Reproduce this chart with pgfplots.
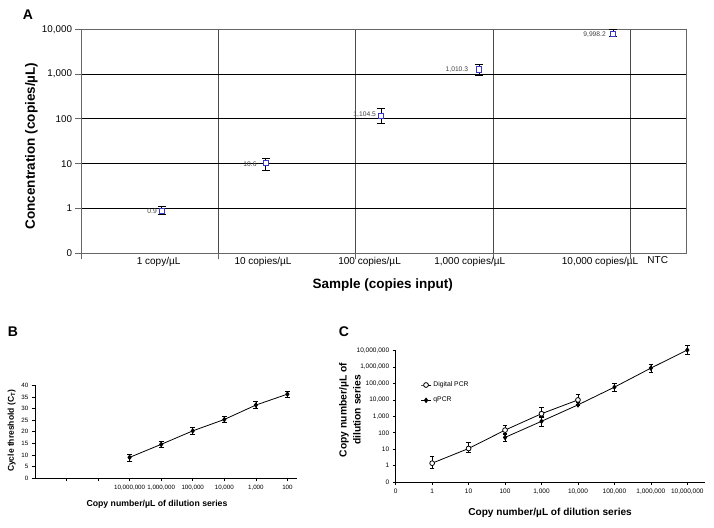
\documentclass[border=0pt]{standalone}
\usepackage{fontspec}
\setmainfont{Liberation Sans}
\usepackage{pgfplots}
\pgfplotsset{compat=1.18}
\pgfplotsset{/pgf/number format/assume math mode=true}
\newcommand{\fs}[1]{\fontsize{#1}{#1}\selectfont}
\definecolor{mblue}{RGB}{55,55,200}
\begin{document}
\begin{tikzpicture}
\useasboundingbox (0pt,0pt) rectangle (714pt,527pt);
\node[font=\bfseries\fs{14}] at (28pt,512pt) {A};
\node[font=\bfseries\fs{14}] at (13pt,195.5pt) {B};
\node[font=\bfseries\fs{14}] at (344pt,195.5pt) {C};

% ---------------- Panel A ----------------
\begin{axis}[
  at={(81.5pt,273.7pt)}, anchor=south west,
  scale only axis, width=605pt, height=224pt,
  xmin=0, xmax=4.41,
  ymode=log, ymin=0.1, ymax=10000,
  xtick={0,1,2,3,4}, xticklabels={},
  ytick={0.1,1,10,100,1000,10000},
  yticklabels={0,1,10,100,{1,000},{10,000}},
  yminorticks=false,
  tick pos=left, tick align=outside, major tick length=6pt,
  tick style={black!60, line width=0.8pt},
  xmajorgrids, ymajorgrids,
  x grid style={black!70, line width=0.8pt},
  y grid style={black, line width=0.8pt},
  axis line style={black!60, line width=1pt},
  tick label style={font=\fs{9.8}},
  extra x ticks={0.562,1.323,2.10,2.83,3.78,4.20},
  extra x tick labels={1 copy/µL,10 copies/µL,100 copies/µL,{1,000 copies/µL},{10,000 copies/µL},NTC},
  extra x tick style={major tick length=0pt, grid=none, tick label style={font=\fs{10}}},
  ylabel={Concentration (copies/µL)},
  ylabel style={at={(axis description cs:-0.083,0.479)}, anchor=center, font=\bfseries\fs{13.5}},
  xlabel={Sample (copies input)},
  xlabel style={at={(axis description cs:0.498,-0.1415)}, anchor=center, font=\bfseries\fs{13.5}},
]
\addplot[mblue, only marks, mark=square*, mark size=2.6pt,
  mark options={fill=white, line width=0.8pt},
  error bars/.cd, y dir=both, y explicit,
  error bar style={black, line width=0.8pt},
  error mark options={rotate=90, mark size=4pt, black, line width=0.8pt}]
  table[x=x, y=y, y error plus=ep, y error minus=em] {
x y ep em
0.585 0.9 0.22 0.18
1.343 10.6 2.3 3.5
2.183 118 55 38
2.897 1268 407 352
3.876 7950 2050 1180
};
\addplot[draw=none, mark=none, nodes near coords, point meta=explicit symbolic,
  nodes near coords style={anchor=east, inner sep=0pt, font=\fs{6.7}, text=black!75}]
  table[x=x, y=y, meta=lab] {
x y lab
0.550 0.88 0.9
1.277 10 10.6
2.147 125 1,104.5
2.819 1268 1,010.3
3.823 7570 9,998.2
};
\end{axis}

% ---------------- Panel B ----------------
\begin{axis}[
  at={(34.9pt,48.7pt)}, anchor=south west,
  scale only axis, width=262pt, height=93pt,
  xmin=0, xmax=8.3, ymin=0, ymax=40,
  axis lines=left, axis line style={-, black, line width=0.8pt},
  xtick={1,2,3,4,5,6,7,8},
  xticklabels={,,{10,000,000},{1,000,000},{100,000},{10,000},{1,000},100},
  ytick={0,5,10,15,20,25,30,35,40},
  tick align=outside, major tick length=3pt,
  tick style={black, line width=0.7pt},
  tick label style={font=\fs{6.2}},
  ylabel={Cycle threshold (C\textsubscript{T})},
  ylabel style={at={(axis description cs:-0.0885,0.51)}, anchor=center, font=\bfseries\fs{8.5}},
  xlabel={Copy number/µL of dilution series},
  xlabel style={at={(axis description cs:0.466,-0.276)}, anchor=center, font=\bfseries\fs{8.7}},
]
\addplot[black, line width=0.8pt, mark=diamond*, mark size=2.2pt,
  error bars/.cd, y dir=both, y explicit,
  error bar style={black, line width=0.7pt},
  error mark options={rotate=90, mark size=2.5pt, black, line width=0.7pt}]
  table[x=x, y=y, y error=e] {
x y e
3 9.0 1.5
4 14.6 1.4
5 20.4 1.4
6 25.3 1.4
7 31.5 1.5
8 36.2 1.4
};
\end{axis}

% ---------------- Panel C ----------------
\begin{axis}[
  at={(395.7pt,45pt)}, anchor=south west,
  scale only axis, width=309.3pt, height=131.3pt,
  xmode=log, ymode=log,
  xmin=0.1, xmax=3.06e7, ymin=0.1, ymax=1e7,
  clip=false,
  axis lines=left, axis line style={-, black, line width=0.8pt},
  xtick={0.1,1,10,100,1000,10000,100000,1000000,10000000},
  xticklabels={0,1,10,100,{1,000},{10,000},{100,000},{1,000,000},{10,000,000}},
  ytick={0.1,1,10,100,1000,10000,100000,1000000,10000000},
  yticklabels={0,1,10,100,{1,000},{10,000},{100,000},{1,000,000},{10,000,000}},
  xminorticks=false, yminorticks=false,
  tick align=outside, major tick length=3pt,
  tick style={black, line width=0.7pt},
  tick label style={font=\fs{6.5}},
  ylabel={Copy number/µL of\\dilution series},
  ylabel style={at={(axis description cs:-0.148,0.548)}, anchor=center, align=center, font=\bfseries\fontsize{10.3}{14}\selectfont},
  xlabel={Copy number/µL of dilution series},
  xlabel style={at={(axis description cs:0.499,-0.238)}, anchor=center, font=\bfseries\fs{10.1}},
  legend style={at={(axis description cs:0.08,0.78)}, anchor=north west, draw=none, fill=none,
    font=\fs{6.8}, row sep=5pt, inner sep=0pt},
  legend cell align=left,
  legend image code/.code={\draw[#1, mark repeat=2, mark phase=2] plot coordinates {(0pt,0pt) (5pt,0pt) (10pt,0pt)};},
]
\addplot[black, line width=0.8pt, mark=*, mark size=2.4pt, mark options={fill=white},
  error bars/.cd, y dir=both, y explicit,
  error bar style={black, line width=0.7pt},
  error mark options={rotate=90, mark size=2.3pt, black, line width=0.7pt}]
  table[x=x, y=y, y error plus=ep, y error minus=em] {
x y ep em
1 1.4 2.2 0.7
10 11 15 4.4
100 145 145 50
1000 1450 1930 500
10000 10000 13000 3000
};
\addlegendentry{Digital PCR}
\addplot[black, line width=0.8pt, mark=diamond*, mark size=2.2pt,
  error bars/.cd, y dir=both, y explicit,
  error bar style={black, line width=0.7pt},
  error mark options={rotate=90, mark size=2.3pt, black, line width=0.7pt}]
  table[x=x, y=y, y error plus=ep, y error minus=em] {
x y ep em
100 52 31 20
1000 500 330 240
10000 5000 500 500
100000 60000 40000 26000
1000000 870000 580000 370000
10000000 11000000 9000000 4700000
};
\addlegendentry{qPCR}
\end{axis}
\end{tikzpicture}
\end{document}
